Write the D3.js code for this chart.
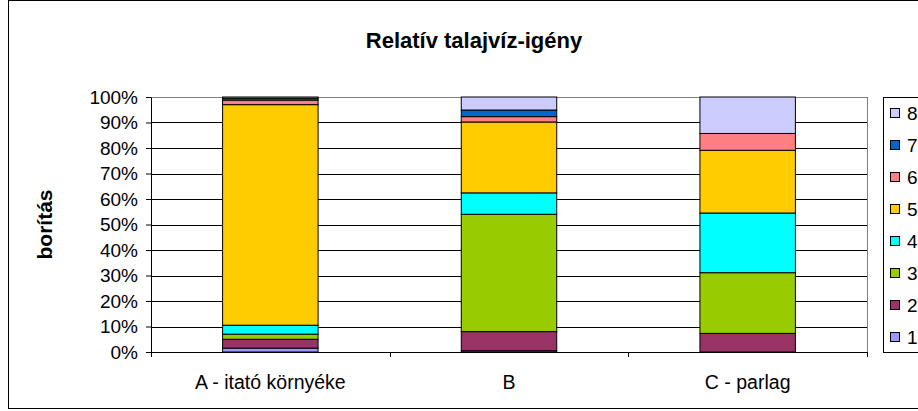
<!DOCTYPE html>
<html>
<head>
<meta charset="utf-8">
<script src="https://cdn.jsdelivr.net/npm/d3@7"></script>
<style>
  body { margin: 0; background: #fff; }
  text { font-family: "Liberation Sans", Arial, sans-serif; fill: #000; }
</style>
</head>
<body>
<div id="chart"></div>
<script>
// categories and series (shares in %)
var categories = ["A - itató környéke", "B", "C - parlag"];
var seriesNames = ["1", "2", "3", "4", "5", "6", "7", "8"];
var s1 = [1.5, 0.5, 0];
var s2 = [3.5, 7.5, 7.3];
var s3 = [2.0, 46.0, 23.8];
var s4 = [3.5, 8.4, 23.4];
var s5 = [86.5, 27.8, 24.6];
var s6 = [1.8, 2.1, 6.6];
var s7 = [0.7, 2.6, 0];
var s8 = [0.5, 5.1, 14.3];
var yTicks = [0, 10, 20, 30, 40, 50, 60, 70, 80, 90, 100];
var colors = ["#9999FF", "#993366", "#99CC00", "#00FFFF", "#FFCC00", "#FF8080", "#0066CC", "#CCCCFF"];

var svgWidth = 918;
var svgHeight = 411;
var margin = { top: 97, right: 51, bottom: 59, left: 151 };
var width = svgWidth - margin.left - margin.right;
var height = svgHeight - margin.top - margin.bottom;

var svg = d3.select("#chart").append("svg")
    .attr("width", svgWidth)
    .attr("height", svgHeight);

// outer chart border
svg.append("rect")
    .attr("x", 8.5).attr("y", 0.5)
    .attr("width", 920).attr("height", 408)
    .attr("fill", "#fff").attr("stroke", "#000");

svg.append("text")
    .attr("x", 474).attr("y", 48)
    .attr("text-anchor", "middle")
    .style("font-size", "22px").style("font-weight", "bold")
    .text("Relatív talajvíz-igény");

svg.append("text")
    .attr("transform", "translate(52," + (margin.top + height / 2) + ") rotate(-90)")
    .attr("text-anchor", "middle")
    .style("font-size", "21px").style("font-weight", "bold")
    .text("borítás");

var chartGroup = svg.append("g")
    .attr("transform", `translate(${margin.left}, ${margin.top})`);

var x = d3.scaleBand().domain(categories).range([0, width]).paddingInner(0).paddingOuter(0);
var y = d3.scaleLinear().domain([0, 100]).range([height, 0]);

// gridlines
chartGroup.selectAll(".grid")
    .data(yTicks.slice(1))
    .enter().append("line")
    .attr("x1", 0).attr("x2", width)
    .attr("y1", d => Math.round(y(d)) + 0.5).attr("y2", d => Math.round(y(d)) + 0.5)
    .attr("stroke", (d, i) => i == 9 ? "#808080" : "#000").attr("stroke-width", 1);

// plot area border (right)
chartGroup.append("line")
    .attr("x1", width + 0.5).attr("x2", width + 0.5)
    .attr("y1", 0).attr("y2", height)
    .attr("stroke", "#808080");

// stacked bars
var rows = categories.map(function(c, i) {
    var r = { cat: c };
    [s1, s2, s3, s4, s5, s6, s7, s8].forEach(function(s, k) { r[seriesNames[k]] = s[i]; });
    return r;
});
var stacked = d3.stack().keys(seriesNames)(rows);
var barW = x.bandwidth() * 0.4;

chartGroup.selectAll(".layer")
    .data(stacked)
    .enter().append("g")
    .attr("fill", (d, i) => colors[i])
    .selectAll("rect")
    .data(d => d.filter(p => p[1] - p[0] > 0))
    .enter().append("rect")
    .attr("x", d => x(d.data.cat) + (x.bandwidth() - barW) / 2)
    .attr("y", d => y(d[1]))
    .attr("width", barW)
    .attr("height", d => y(d[0]) - y(d[1]))
    .attr("stroke", "#000").attr("stroke-width", 1);

// y axis
var leftAxis = d3.axisLeft(y).tickValues(yTicks).tickFormat(d => d + "%").tickSize(5).tickPadding(8);
var yAxis = chartGroup.append("g").call(leftAxis);
yAxis.selectAll("text").style("font-size", "19px");
yAxis.select(".domain").attr("stroke", "#000");

// x axis
var bottomAxis = d3.axisBottom(x).tickSize(0).tickPadding(23);
var xAxis = chartGroup.append("g")
    .attr("transform", `translate(0, ${height})`)
    .call(bottomAxis);
xAxis.select(".domain").attr("d", "M0.5,0.5H" + width);
xAxis.selectAll("text").style("font-size", "19.5px");
chartGroup.selectAll(".xtick")
    .data([0, 1, 2, 3])
    .enter().append("line")
    .attr("x1", d => Math.round(d * x.bandwidth()) + 0.5)
    .attr("x2", d => Math.round(d * x.bandwidth()) + 0.5)
    .attr("y1", height).attr("y2", height + 5)
    .attr("stroke", "#000");

// legend
var legend = svg.append("g").attr("transform", "translate(883, 97)");
legend.append("rect")
    .attr("x", 0.5).attr("y", 0.5)
    .attr("width", 60).attr("height", 255)
    .attr("fill", "#fff").attr("stroke", "#000");
var items = legend.selectAll(".item")
    .data(seriesNames.slice().reverse())
    .enter().append("g")
    .attr("transform", (d, i) => `translate(0, ${16 + i * 32})`);
items.append("rect")
    .attr("x", 7.5).attr("y", -4.5)
    .attr("width", 9).attr("height", 9)
    .attr("fill", d => colors[seriesNames.indexOf(d)])
    .attr("stroke", "#000");
items.append("text")
    .attr("x", 24).attr("y", 7)
    .style("font-size", "19px")
    .text(d => d);
</script>
</body>
</html>
